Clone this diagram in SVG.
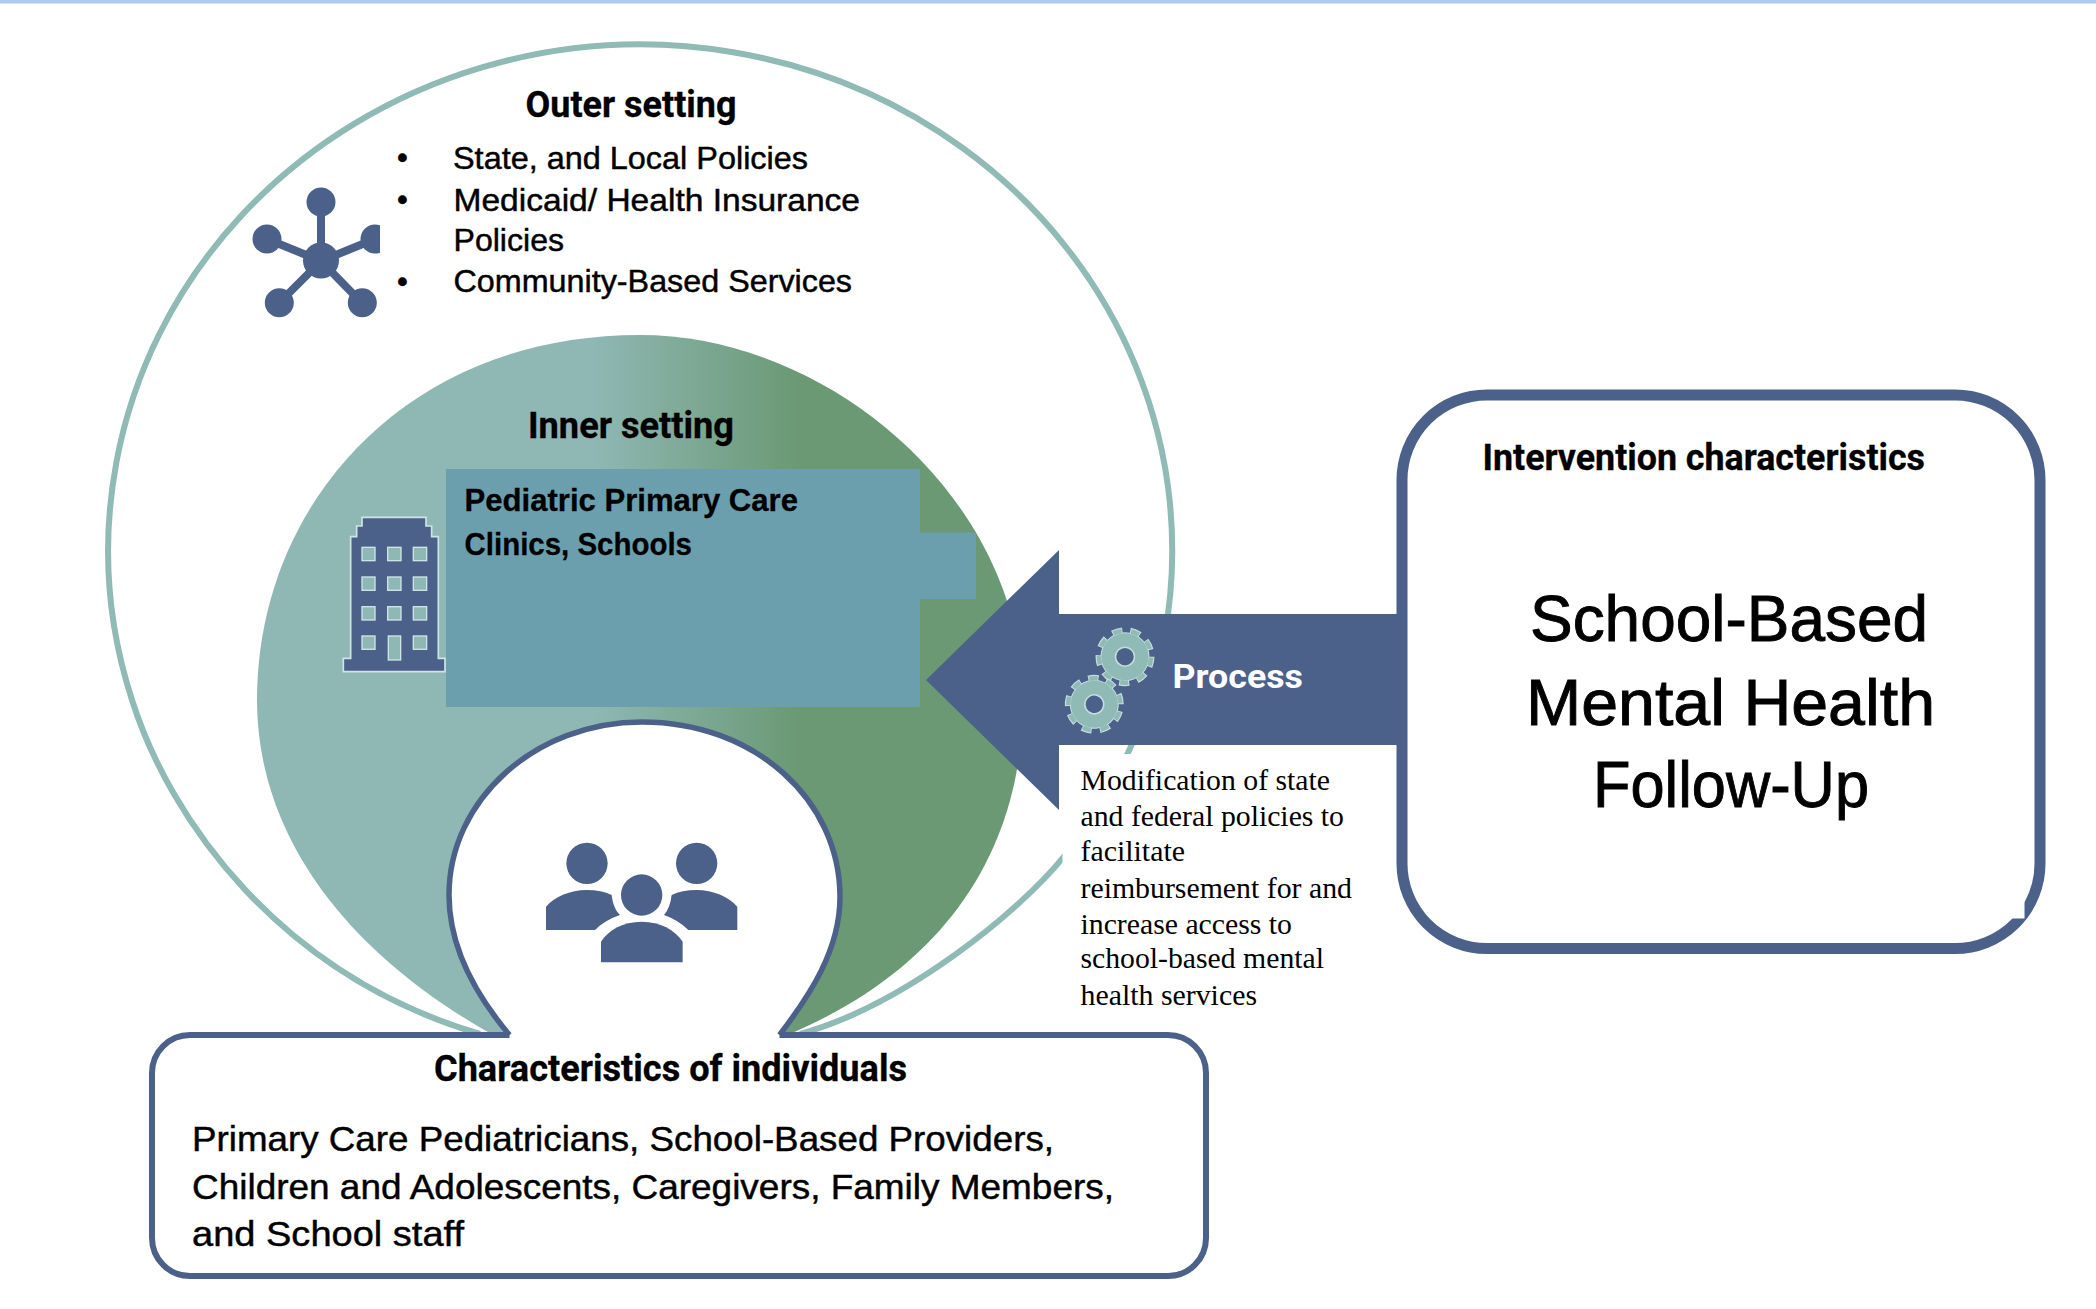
<svg xmlns="http://www.w3.org/2000/svg" xmlns:xlink="http://www.w3.org/1999/xlink" width="2096" height="1309" viewBox="0 0 2096 1309">
<style>
text{font-family:"Liberation Sans",Arial,sans-serif;fill:#000}
.h{font-family:Roboto,"Liberation Sans",sans-serif;font-weight:700;font-size:36px;stroke:#000;stroke-width:.3}
.b{font-size:31px;stroke:#000;stroke-width:.45}
.p{font-weight:700;font-size:31px;stroke:#000;stroke-width:.3}
.c{font-size:35px;stroke:#000;stroke-width:.45}
.s{font-family:"Liberation Serif","Times New Roman",serif;font-size:29px}
.big{font-size:64px;stroke:#000;stroke-width:.9}
.navy{fill:#4c6189}
.bar{stroke:#4c6189;stroke-width:8}
.win{fill:#8fb8b5;stroke:#cfe4e8;stroke-width:4}
</style>
<defs>
<linearGradient id="inner-fill" gradientUnits="userSpaceOnUse" x1="590" y1="0" x2="800" y2="0">
<stop offset="0" stop-color="#8fb8b5"/><stop offset="1" stop-color="#6a9974"/>
</linearGradient>
<clipPath id="net-clip"><rect x="240" y="170" width="140" height="160"/></clipPath>
<g id="gear">
<circle r="26.2" fill="none" stroke="#c6dde0" stroke-width="6.5" stroke-dasharray="10.2 8.09"/>
<circle r="24.5" fill="#c6dde0"/>
<circle r="26" fill="none" stroke="#8fbab5" stroke-width="4.5" stroke-dasharray="8.2 9.95" stroke-dashoffset="-1"/>
<circle r="23.5" fill="#8fbab5"/>
<circle r="9.5" fill="#4c6189" stroke="#c6dde0" stroke-width="1.6"/>
</g>
</defs>
<rect id="top-rule" x="0" y="0" width="2096" height="3.5" fill="#b0c9ef"/>

<g id="outer-setting">
<path d="M480 1034C280 975 170 820 132 700A532 506 0 1 1 1063.5 857C1020 911 905 1005 800 1034" fill="none" stroke="#8fbab5" stroke-width="6"/>
<text class="h" x="525.5" y="117" textLength="211" lengthAdjust="spacingAndGlyphs">Outer setting</text>
<text class="b" x="397" y="168">•</text>
<text class="b" x="397" y="210">•</text>
<text class="b" x="397" y="292">•</text>
<text class="b" x="453" y="169" textLength="355" lengthAdjust="spacingAndGlyphs">State, and Local Policies</text>
<text class="b" x="453.5" y="211" textLength="406.5" lengthAdjust="spacingAndGlyphs">Medicaid/ Health Insurance</text>
<text class="b" x="453.5" y="251" textLength="110.5" lengthAdjust="spacingAndGlyphs">Policies</text>
<text class="b" x="453.5" y="292" textLength="398.5" lengthAdjust="spacingAndGlyphs">Community-Based Services</text>
<g id="network-icon" clip-path="url(#net-clip)">
<path class="bar" d="M321 261V202M321 261L267 239M321 261L375 239M321 261L279 303M321 261L362 303"/>
<circle class="navy" cx="321" cy="260.5" r="18"/>
<circle class="navy" cx="321" cy="202" r="14.5"/>
<circle class="navy" cx="267" cy="239" r="14.5"/>
<circle class="navy" cx="375" cy="239" r="14.5"/>
<circle class="navy" cx="279.3" cy="302.7" r="14.5"/>
<circle class="navy" cx="362.3" cy="302.7" r="14.5"/>
</g>
</g>

<g id="inner-setting">
<path d="M495 1036C340 950 257 830 257 700C257 505 405 335 640 335C830 335 1023 500 1023 700C1023 840 955 965 785 1036Z" fill="url(#inner-fill)"/>
<text class="h" x="528" y="438" textLength="206" lengthAdjust="spacingAndGlyphs">Inner setting</text>
<g id="building-icon" transform="translate(330 500) scale(.3333)">
<path class="navy" stroke="#cfe4e8" stroke-width="5" d="M40 515V475H62V110H80V78H96V52H288V78H305V110H325V475H345V515Z"/>
<rect class="win" x="96" y="142" width="39" height="40"/><rect class="win" x="173" y="142" width="40" height="40"/><rect class="win" x="250" y="142" width="40" height="40"/>
<rect class="win" x="96" y="231" width="39" height="40"/><rect class="win" x="173" y="231" width="40" height="40"/><rect class="win" x="250" y="231" width="40" height="40"/>
<rect class="win" x="96" y="320" width="39" height="40"/><rect class="win" x="173" y="320" width="40" height="40"/><rect class="win" x="250" y="320" width="40" height="40"/>
<rect class="win" x="96" y="408" width="39" height="40"/><rect class="win" x="175" y="408" width="37" height="72"/><rect class="win" x="250" y="408" width="40" height="40"/>
</g>
<path id="clinic-box" d="M446 469H920V532.5H976V599H920V707H446Z" fill="#6b9fae"/>
<text class="p" x="464.5" y="511" textLength="333.5" lengthAdjust="spacingAndGlyphs">Pediatric Primary Care</text>
<text class="p" x="464.5" y="555" textLength="227.5" lengthAdjust="spacingAndGlyphs">Clinics, Schools</text>
</g>

<g id="individuals">
<path d="M509.5 1035C480 1000 449 950 449 895C449 800 535 722 642 722C755 722 840 800 840 897C840 950 810 995 779.5 1035" fill="#fff" stroke="#4c6189" stroke-width="5.5"/>
<g id="people-icon" class="navy" transform="translate(530 825) scale(.3333)">
<circle cx="171" cy="115" r="62"/><circle cx="500" cy="115" r="62"/><circle cx="335" cy="210" r="62"/>
<path d="M48 315V245C75 215 120 195 170 195C200 195 225 200 245 210C248 235 255 255 270 270C240 280 215 295 195 315Z"/>
<path d="M622 315V245C595 215 550 195 500 195C470 195 445 200 425 210C422 235 415 255 402 270C430 280 455 295 475 315Z"/>
<path d="M213 412V350C235 315 280 290 335 290C390 290 435 315 458 350V412Z"/>
</g>
<path d="M779.5 1035H1168A38 38 0 0 1 1206 1073V1238A38 38 0 0 1 1168 1276H190A38 38 0 0 1 152 1238V1073A38 38 0 0 1 190 1035H509.5" fill="#fff" stroke="#4c6189" stroke-width="6"/>
<text class="h" x="434" y="1080.5" textLength="473" lengthAdjust="spacingAndGlyphs">Characteristics of individuals</text>
<text class="c" x="192" y="1150.5" textLength="862" lengthAdjust="spacingAndGlyphs">Primary Care Pediatricians, School-Based Providers,</text>
<text class="c" x="192" y="1199" textLength="922" lengthAdjust="spacingAndGlyphs">Children and Adolescents, Caregivers, Family Members,</text>
<text class="c" x="192" y="1246" textLength="272" lengthAdjust="spacingAndGlyphs">and School staff</text>
</g>

<g id="intervention">
<rect x="1402" y="395" width="638" height="553.5" rx="85" ry="85" fill="#fff" stroke="#4c6189" stroke-width="11"/>
<rect x="1800" y="880" width="224.5" height="38.5" fill="#fff"/>
<text class="h" x="1482.5" y="469.5" textLength="442.5" lengthAdjust="spacingAndGlyphs">Intervention characteristics</text>
<text class="big" x="1530" y="641" textLength="398" lengthAdjust="spacingAndGlyphs">School-Based</text>
<text class="big" x="1526" y="724.5" textLength="409" lengthAdjust="spacingAndGlyphs">Mental Health</text>
<text class="big" x="1593" y="807" textLength="276" lengthAdjust="spacingAndGlyphs">Follow-Up</text>
</g>

<g id="connectors">
<rect x="1062.5" y="754" width="328" height="260" fill="#fff"/>
<path id="process-arrow" class="navy" d="M1399 614H1059V550L926 680L1059 810V745H1399Z"/>
</g>

<g id="process">
<use xlink:href="#gear" href="#gear" transform="translate(1125 656.7)"/>
<use xlink:href="#gear" href="#gear" transform="translate(1094.3 704.3) rotate(15)"/>
<text x="1172.5" y="688" font-size="34" font-weight="700" style="font-family:Roboto,'Liberation Sans',sans-serif;fill:#fff" textLength="130.5" lengthAdjust="spacingAndGlyphs">Process</text>
<text class="s" x="1080.5" y="790" textLength="249.5" lengthAdjust="spacingAndGlyphs">Modification of state</text>
<text class="s" x="1080.5" y="826" textLength="263.5" lengthAdjust="spacingAndGlyphs">and federal policies to</text>
<text class="s" x="1080.5" y="861" textLength="104.5" lengthAdjust="spacingAndGlyphs">facilitate</text>
<text class="s" x="1080.5" y="898" textLength="271.5" lengthAdjust="spacingAndGlyphs">reimbursement for and</text>
<text class="s" x="1080.5" y="934" textLength="211.5" lengthAdjust="spacingAndGlyphs">increase access to</text>
<text class="s" x="1080.5" y="968" textLength="243.5" lengthAdjust="spacingAndGlyphs">school-based mental</text>
<text class="s" x="1080.5" y="1004.5" textLength="176.5" lengthAdjust="spacingAndGlyphs">health services</text>
</g>
</svg>
